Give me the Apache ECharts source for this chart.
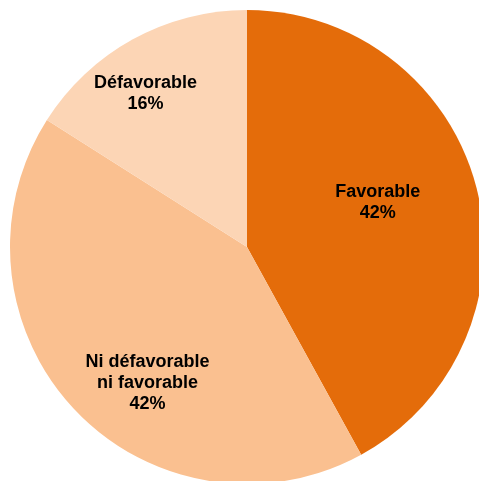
<!DOCTYPE html>
<html>
<head>
<meta charset="utf-8">
<script src="https://cdn.jsdelivr.net/npm/echarts@6/dist/echarts.min.js"></script>
<style>html,body{margin:0;padding:0;background:#fff;}#c{width:479px;height:481px;}</style>
</head>
<body>
<div id="c"></div>
<script>
var categories = ["Favorable", "Ni défavorable\nni favorable", "Défavorable"];
var values = [42, 42, 16];
var colors = ["#E46C0A", "#FAC090", "#FCD5B5"];
// label nudges relative to the default inside position (Excel-like placement)
var labelShift = [[13, -14], [-11, 53], [-43, -47]];

var chart = echarts.init(document.getElementById('c'), null, {renderer: 'canvas'});
chart.setOption({
  animation: false,
  series: [{
    type: 'pie',
    center: [247, 247],
    radius: [0, 237],
    startAngle: 90,
    clockwise: true,
    avoidLabelOverlap: false,
    itemStyle: {borderWidth: 0},
    label: {
      show: true,
      position: 'inside',
      color: '#000',
      fontFamily: 'Liberation Sans, Arial, sans-serif',
      fontWeight: 'bold',
      fontSize: 18,
      lineHeight: 21,
      align: 'center',
      formatter: function (p) { return p.name + '\n' + p.value + '%'; }
    },
    labelLine: {show: false},
    emphasis: {disabled: true},
    labelLayout: function (p) {
      var s = labelShift[p.dataIndex];
      return {dx: s[0], dy: s[1]};
    },
    data: categories.map(function (c, i) {
      return {name: c, value: values[i], itemStyle: {color: colors[i]}};
    })
  }]
});
</script>
</body>
</html>
